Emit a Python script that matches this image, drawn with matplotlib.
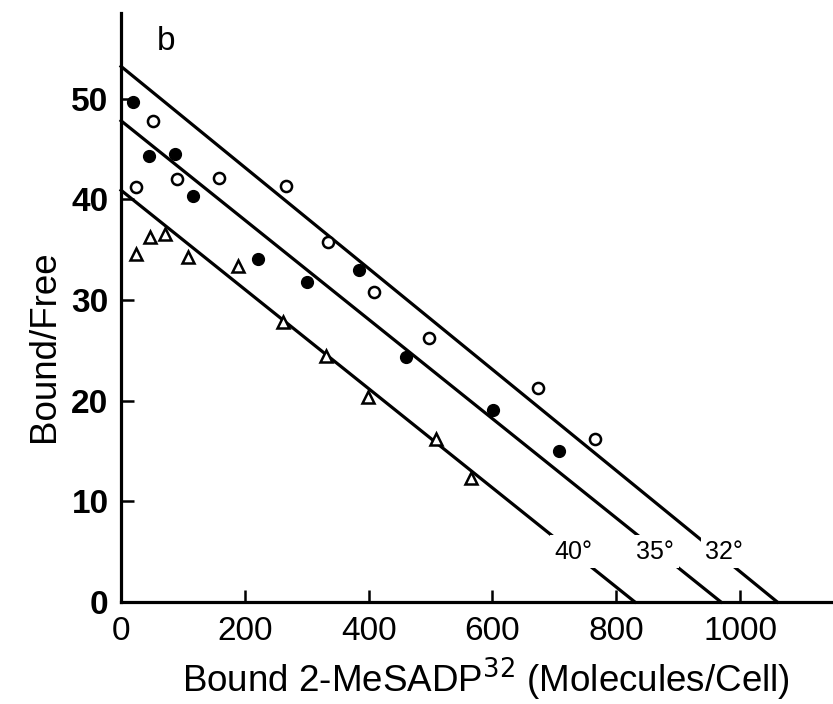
import numpy as np
import matplotlib.pyplot as plt

# filled circles (35 deg)
x_35 = [19, 45, 87, 116, 221, 300, 384, 460, 601, 708]
y_35 = [49.7, 44.3, 44.5, 40.3, 34.1, 31.8, 33.0, 24.3, 19.1, 15.0]

# open circles (32 deg)
x_32 = [24, 52, 90, 158, 267, 334, 409, 498, 674, 766]
y_32 = [41.2, 47.8, 42.0, 42.1, 41.3, 35.8, 30.8, 26.2, 21.3, 16.2]

# triangles (40 deg)
x_40 = [24, 47, 71, 108, 189, 262, 331, 399, 509, 565]
y_40 = [34.6, 36.3, 36.6, 34.3, 33.4, 27.8, 24.4, 20.4, 16.2, 12.3]

# fitted lines: y intercept, x intercept
line_names = ['32°', '35°', '40°']
y_int = [53.2, 47.8, 40.9]
x_int = [1060, 969, 830]
label_x = [974, 863, 730]
label_y = 5.0

xticks = [0, 200, 400, 600, 800, 1000]
yticks = [0, 10, 20, 30, 40, 50]

plt.rcParams['font.family'] = ['Liberation Sans', 'DejaVu Sans']

fig = plt.figure(figsize=(8.33, 7.04), dpi=100)
ax = fig.add_axes([0.1453, 0.1449, 0.8547, 0.8366])

for name, yi, xi, lx in zip(line_names, y_int, x_int, label_x):
    ax.plot([0, xi], [yi, 0], color='black', lw=2.3, zorder=2, clip_on=False)
    ax.text(lx, label_y, name, fontsize=18, ha='center', va='center', zorder=4,
            bbox=dict(facecolor='white', edgecolor='none', pad=3))

ax.plot(x_35, y_35, 'o', ms=8.5, color='black', zorder=3)
ax.plot(x_32, y_32, 'o', ms=8, mfc='white', mec='black', mew=1.8, zorder=3)
ax.plot(x_40, y_40, '^', ms=8, mfc='white', mec='black', mew=1.8, zorder=3)

ax.set_xlim(0, 1150)
ax.set_ylim(0, 58.5)
ax.set_xticks(xticks)
ax.set_yticks(yticks)
ax.spines['top'].set_visible(False)
ax.spines['right'].set_visible(False)
ax.spines['left'].set_linewidth(2.3)
ax.spines['bottom'].set_linewidth(2.3)
ax.tick_params(direction='in', length=9, width=1.8)
ax.tick_params(axis='x', labelsize=24, pad=10)
ax.tick_params(axis='y', labelsize=24, pad=9)
for lab in ax.get_yticklabels():
    lab.set_fontweight('bold')

ax.set_xlabel('Bound 2-MeSADP$^{32}$ (Molecules/Cell)', fontsize=26.5)
ax.xaxis.set_label_coords(0.513, -0.132)
ax.xaxis.label.set_va('center')
ax.set_ylabel('Bound/Free', fontsize=26.5)
ax.yaxis.set_label_coords(-0.107, 0.435)
ax.yaxis.label.set_va('center')

ax.text(0.063, 0.951, 'b', transform=ax.transAxes, fontsize=24, ha='center', va='center')

fig.savefig('out.png', dpi=100)
